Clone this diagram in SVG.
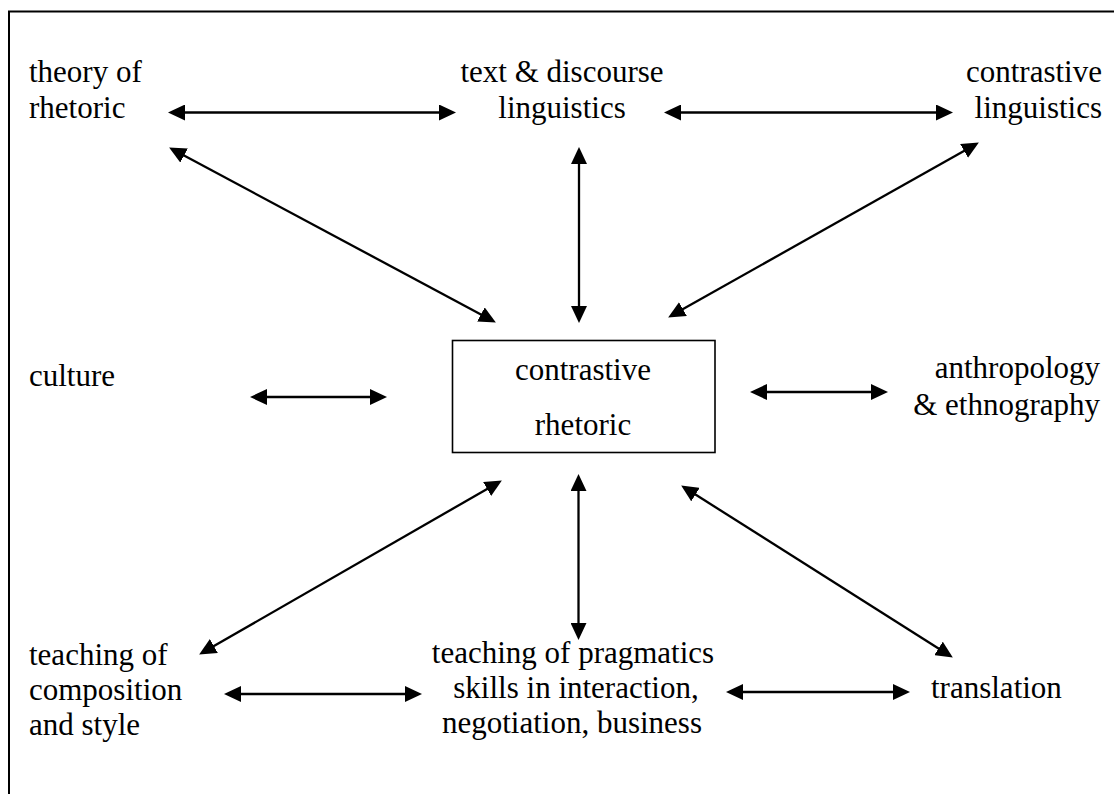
<svg xmlns="http://www.w3.org/2000/svg" width="1114" height="794" viewBox="0 0 1114 794">
<style>
  .t { font-family: "Liberation Serif", "Times New Roman", Times, "DejaVu Serif", serif; font-size: 31px; fill: #000; }
  .c { text-anchor: middle; }
  .r { text-anchor: end; }
  .conn { stroke: #000; stroke-width: 2.3; fill: none; marker-start: url(#ah); marker-end: url(#ah); }
</style>
<defs>
  <marker id="ah" markerUnits="userSpaceOnUse" markerWidth="17" markerHeight="16" refX="8" refY="8" orient="auto-start-reverse" viewBox="0 0 17 16">
    <path d="M0,0 L17,8 L0,16 z" fill="#000"/>
  </marker>
</defs>
<rect x="0" y="0" width="1114" height="794" fill="#fff"/>
<rect id="frame" x="9" y="11.5" width="1120" height="800" fill="none" stroke="#000" stroke-width="2"/>

<g class="t">
<g id="theory"><text x="29" y="82">theory of</text><text x="29" y="118">rhetoric</text></g>
<g id="textdiscourse"><text class="c" x="562" y="82">text &amp; discourse</text><text class="c" x="562" y="118">linguistics</text></g>
<g id="contrastiveling"><text class="r" x="1102" y="82">contrastive</text><text class="r" x="1102" y="118">linguistics</text></g>
<g id="culture"><text x="29" y="386">culture</text></g>
<g id="center"><rect x="452.5" y="340.5" width="262.5" height="112" fill="none" stroke="#000" stroke-width="1.6"/><text class="c" x="583" y="380">contrastive</text><text class="c" x="583" y="435">rhetoric</text></g>
<g id="anthro"><text class="r" x="1100" y="378">anthropology</text><text class="r" x="1100" y="415">&amp; ethnography</text></g>
<g id="composition"><text x="29" y="665">teaching of</text><text x="29" y="700">composition</text><text x="29" y="735">and style</text></g>
<g id="pragmatics"><text class="c" x="573" y="663">teaching of pragmatics</text><text class="c" x="576" y="698">skills in interaction,</text><text class="c" x="572" y="733">negotiation, business</text></g>
<g id="translation"><text x="931" y="698">translation</text></g>
</g>

<g id="connectors">
  <line class="conn" x1="177" y1="112.5" x2="447" y2="112.5"/>
  <line class="conn" x1="673" y1="112.5" x2="944" y2="112.5"/>
  <line class="conn" x1="579" y1="156" x2="579" y2="314"/>
  <line class="conn" x1="177.05" y1="151.78" x2="487.95" y2="318.22"/>
  <line class="conn" x1="971.03" y1="146.93" x2="675.97" y2="313.07"/>
  <line class="conn" x1="259" y1="397" x2="378" y2="397"/>
  <line class="conn" x1="759" y1="392" x2="879" y2="392"/>
  <line class="conn" x1="494.06" y1="484.99" x2="206.94" y2="650.01"/>
  <line class="conn" x1="578.5" y1="483" x2="578.5" y2="631"/>
  <line class="conn" x1="688.76" y1="490.28" x2="945.24" y2="652.72"/>
  <line class="conn" x1="233" y1="694" x2="413" y2="694"/>
  <line class="conn" x1="735" y1="692" x2="901" y2="692"/>
</g>
</svg>
